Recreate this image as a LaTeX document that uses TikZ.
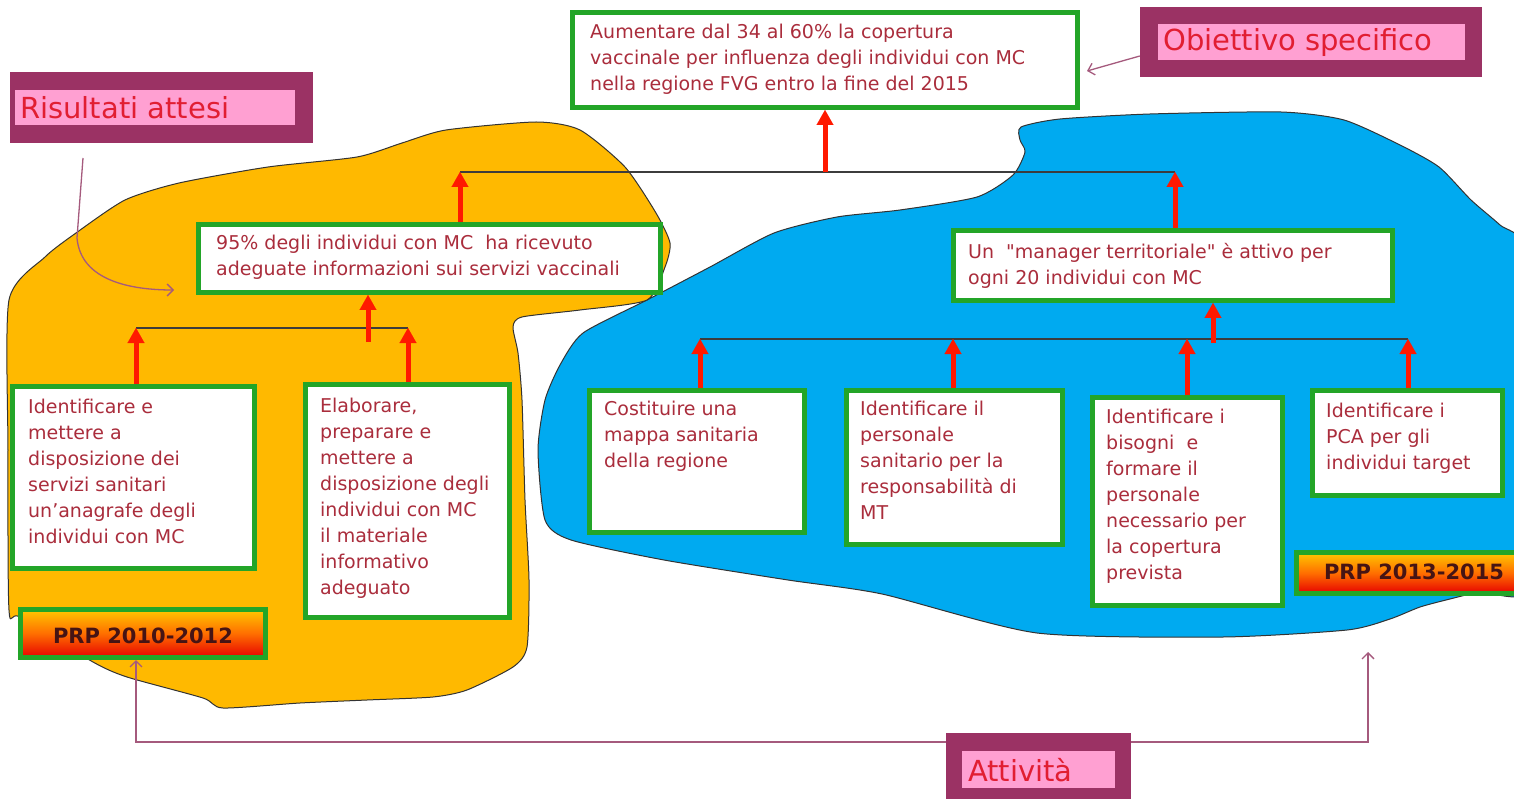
\documentclass[tikz,border=0pt]{standalone}
\usepackage{fontspec}
\setmainfont{DejaVu Sans}
\usetikzlibrary{arrows.meta,fit,shadings}

\definecolor{blobOrange}{RGB}{255,185,0}
\definecolor{blobBlue}{RGB}{0,170,240}
\definecolor{boxGreen}{RGB}{35,165,40}
\definecolor{boxText}{RGB}{170,45,60}
\definecolor{labelOuter}{RGB}{155,50,100}
\definecolor{labelInner}{RGB}{255,160,210}
\definecolor{labelText}{RGB}{225,30,50}
\definecolor{arrowRed}{RGB}{255,25,0}
\definecolor{barGray}{RGB}{60,60,60}
\definecolor{pointerMauve}{RGB}{165,90,125}
\definecolor{prpTop}{RGB}{255,200,0}
\definecolor{prpMid}{RGB}{255,110,0}
\definecolor{prpBottom}{RGB}{230,0,0}
\definecolor{prpText}{RGB}{70,20,20}

\begin{document}
\begin{tikzpicture}[x=1pt,y=1pt,
  gbox/.style={draw=boxGreen, line width=5pt, fill=white, inner sep=0pt},
  btext/.style={anchor=north west, inner sep=0pt, align=left, text=boxText,
    font=\fontsize{19}{26}\selectfont},
  prpbox/.style={draw=boxGreen, line width=5pt, inner sep=0pt,
    top color=prpTop, bottom color=prpBottom, middle color=prpMid},
  prptext/.style={inner sep=0pt, text=prpText,
    font=\fontsize{21}{24}\selectfont\bfseries},
  lblouter/.style={fill=labelOuter, inner sep=0pt},
  lblinner/.style={fill=labelInner, inner sep=0pt},
  lbltext/.style={anchor=west, inner sep=0pt, text=labelText,
    font=\fontsize{29}{32}\selectfont},
  uparrow/.style={draw=arrowRed, line width=5pt,
    -{Triangle[width=17pt,length=15pt,line width=0.1pt]}},
  bar/.style={draw=barGray, line width=2pt},
  pointer/.style={draw=pointerMauve, line width=1.3pt,
    -{Straight Barb[length=6pt,width=12pt]}},
  blob/.style={draw=black!80, line width=1pt, line join=round},
]
\useasboundingbox (0,0) rectangle (1514,-799);

% ---- background regions ----
\path[blob, fill=blobBlue] plot[smooth cycle, tension=0.4] coordinates {
  (1021,-127) (1060,-119) (1150,-114) (1281,-112) (1344,-120) (1400,-145)
  (1439,-167) (1471,-200) (1500,-225) (1525,-250) (1532,-400) (1532,-586)
  (1480,-592) (1450,-599) (1420,-607) (1390,-619) (1347,-630) (1223,-637)
  (1037,-633) (882,-594) (788,-580) (664,-560) (571,-540) (545,-520)
  (538,-450) (545,-400) (560,-365) (583,-333) (647,-300) (710,-267)
  (774,-233) (837,-217) (900,-210) (977,-197) (1013,-175) (1025,-152)
  (1020,-140)};

\path[blob, fill=blobOrange] plot[smooth cycle, tension=0.4] coordinates {
  (9,-300) (45,-257) (76,-233) (125,-200) (179,-183) (268,-167) (357,-157)
  (402,-143) (446,-130) (536,-122) (580,-130) (625,-167) (656,-213)
  (670,-243) (665,-267) (647,-300) (580,-310) (522,-317) (513,-327)
  (518,-353) (522,-400) (525,-500) (529,-580) (527,-647) (513,-667)
  (467,-690) (433,-697) (367,-700) (300,-703) (223,-708) (203,-698)
  (127,-677) (93,-662) (20,-617) (9,-610) (8,-450)};

% ---- boxes ----
\node[gbox, fit={(572.5,-12.5)(1077.5,-107.5)}] (obj) {};
\node[gbox, fit={(198.5,-224.5)(660.5,-292.5)}] (res1) {};
\node[gbox, fit={(953.5,-230.5)(1392.5,-300.5)}] (res2) {};
\node[gbox, fit={(12.5,-386.5)(254.5,-568.5)}] (act1) {};
\node[gbox, fit={(305.5,-384.5)(509.5,-617.5)}] (act2) {};
\node[gbox, fit={(589.5,-390.5)(804.5,-532.5)}] (act3) {};
\node[gbox, fit={(846.5,-390.5)(1062.5,-544.5)}] (act4) {};
\node[gbox, fit={(1092.5,-397.5)(1282.5,-605.5)}] (act5) {};
\node[gbox, fit={(1312.5,-390.5)(1502.5,-495.5)}] (act6) {};

\node[btext] (obj-t) at (590,-24) {Aumentare dal 34 al 60\% la copertura\\
  vaccinale per influenza degli individui con MC\\
  nella regione FVG entro la fine del 2015};
\node[btext] (res1-t) at (216,-235) {95\% degli individui con MC\ \ ha ricevuto\\
  adeguate informazioni sui servizi vaccinali};
\node[btext] (res2-t) at (968,-243) {Un \ \textquotedbl manager territoriale\textquotedbl\ è attivo per\\
  ogni 20 individui con MC};
\node[btext] (act1-t) at (28,-399) {Identificare e\\ mettere a\\ disposizione dei\\
  servizi sanitari\\ un'anagrafe degli\\ individui con MC};
\node[btext] (act2-t) at (320,-398) {Elaborare,\\ preparare e\\ mettere a\\
  disposizione degli\\ individui con MC\\ il materiale\\ informativo\\ adeguato};
\node[btext] (act3-t) at (604,-401) {Costituire una\\ mappa sanitaria\\ della regione};
\node[btext] (act4-t) at (860,-401) {Identificare il\\ personale\\ sanitario per la\\
  responsabilità di\\ MT};
\node[btext] (act5-t) at (1106,-409) {Identificare i\\ bisogni \ e\\ formare il\\
  personale\\ necessario per\\ la copertura\\ prevista};
\node[btext] (act6-t) at (1326,-403) {Identificare i\\ PCA per gli\\ individui target};

% ---- programme periods ----
\node[prpbox, fit={(20.5,-609.5)(265.5,-657.5)}] (prp1) {};
\node[prptext] (prp1-t) at ([yshift=-2pt]prp1.center) {PRP 2010-2012};
\node[prpbox, fit={(1296.5,-552.5)(1522,-593.5)}] (prp2) {};
\node[prptext] (prp2-t) at (1414,-572) {PRP 2013-2015};

% ---- hierarchy connectors ----
\coordinate (topL) at (460,-172);
\coordinate (topR) at (1175,-172);
\draw[bar] (topL) -- (topR);
\draw[uparrow] (res1.north -| topL) -- (topL);
\draw[uparrow] (res2.north -| topR) -- (topR);
\draw[uparrow] (obj.south |- topL) -- (obj.south);

\coordinate (barL1) at (136,-328);
\coordinate (barL2) at (408,-328);
\draw[bar] (barL1) -- (barL2);
\draw[uparrow] (act1.north -| barL1) -- (barL1);
\draw[uparrow] (act2.north -| barL2) -- (barL2);
\coordinate (midL) at (368,-342);
\draw[uparrow] (midL) -- (midL |- res1.south);

\coordinate (barR1) at (700,-339);
\coordinate (barR2) at (953,-339);
\coordinate (barR3) at (1187,-339);
\coordinate (barR4) at (1408,-339);
\draw[bar] (barR1) -- (barR4);
\draw[uparrow] (act3.north -| barR1) -- (barR1);
\draw[uparrow] (act4.north -| barR2) -- (barR2);
\draw[uparrow] (act5.north -| barR3) -- (barR3);
\draw[uparrow] (act6.north -| barR4) -- (barR4);
\coordinate (midR) at (1213,-343);
\draw[uparrow] (midR) -- (midR |- res2.south);

% ---- legend labels ----
\node[lblouter, fit={(10,-72)(313,-143)}] (lblRis) {};
\node[lblinner, fit={(15,-90)(295,-125)}] (lblRis-in) {};
\node[lbltext] (lblRis-t) at (20,-107.5) {Risultati attesi};

\node[lblouter, fit={(1140,-7)(1482,-77)}] (lblObj) {};
\node[lblinner, fit={(1158,-24)(1465,-60)}] (lblObj-in) {};
\node[lbltext] (lblObj-t) at (1163,-43) {Obiettivo specifico};

\node[lblouter, fit={(946,-733)(1131,-812)}] (lblAtt) {};
\node[lblinner, fit={(962,-751)(1115,-788)}] (lblAtt-in) {};
\node[lbltext] (lblAtt-t) at (968,-770) {Attività};

% ---- label pointers ----
\coordinate (risStart) at (83,-158);
\coordinate (risEnd) at (174,-290);
\draw[pointer] (risStart) -- (77,-238) to[out=-85,in=180] (risEnd);

\coordinate (objPtrEnd) at (1087,-71);
\draw[pointer] ([yshift=-14pt]lblObj.west) -- (objPtrEnd);

\coordinate (attTip) at (1368,-652);
\draw[pointer] ([yshift=30.5pt]lblAtt.west) -| ([xshift=-7pt]prp1.south);
\draw[pointer] ([yshift=30.5pt]lblAtt.east) -| (attTip);
\end{tikzpicture}
\end{document}
